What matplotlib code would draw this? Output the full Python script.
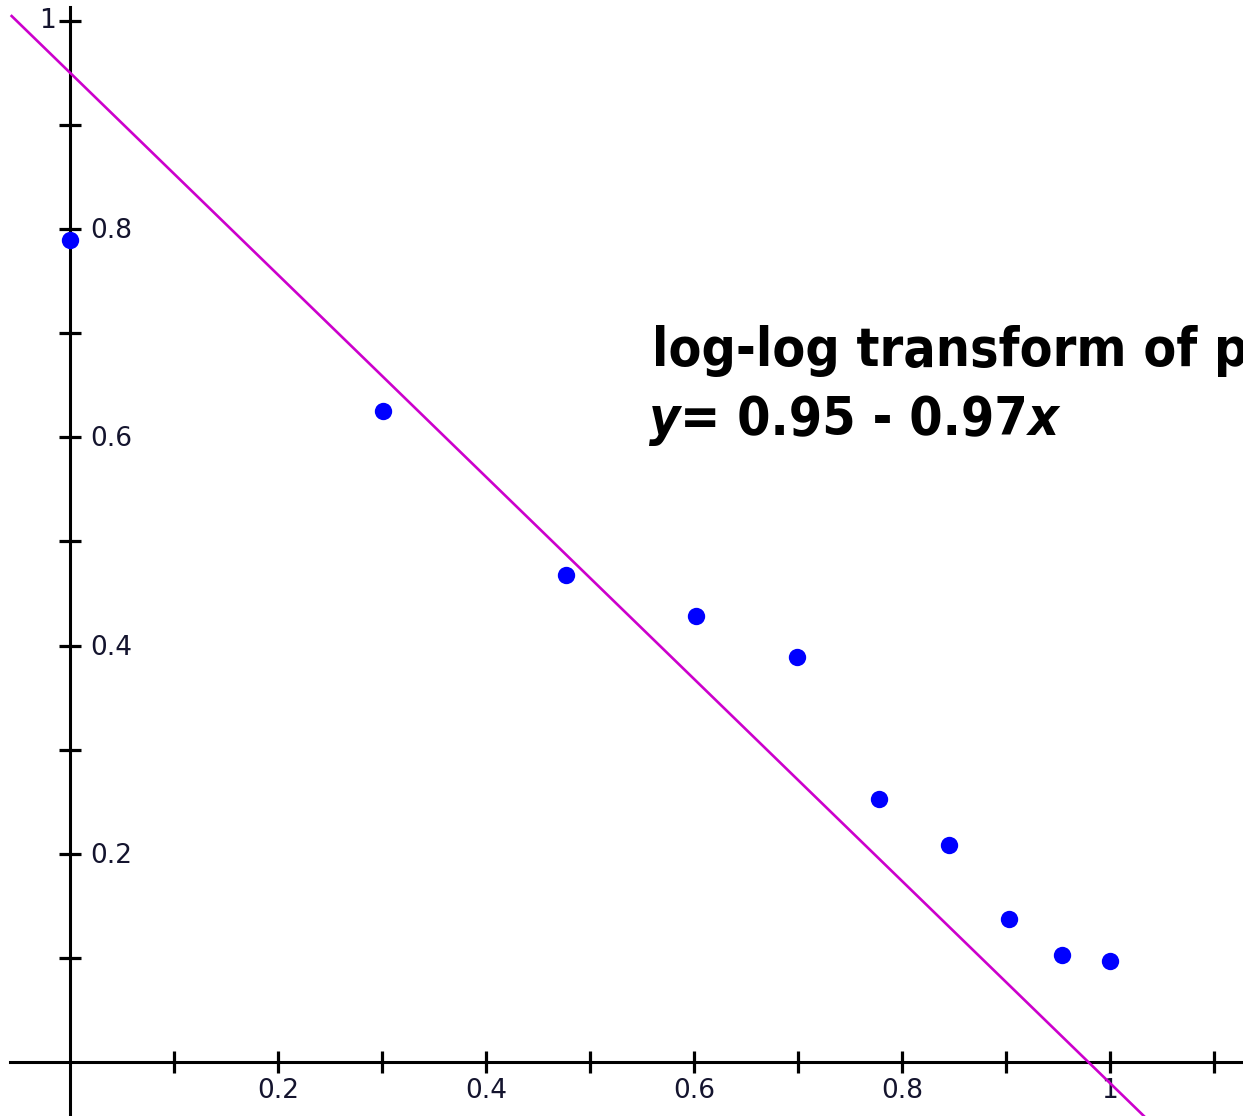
import matplotlib
matplotlib.use("Agg")
import matplotlib.pyplot as plt
from matplotlib import font_manager as fm
import numpy as np

# ---- data ----
x_vals = [0.0, 0.301, 0.477, 0.602, 0.699, 0.778, 0.845, 0.903, 0.954, 1.0]
y_vals = [0.789, 0.625, 0.468, 0.428, 0.389, 0.253, 0.209, 0.138, 0.103, 0.097]
intercept = 0.95
slope = -0.97
x_ticks = [0.1, 0.2, 0.3, 0.4, 0.5, 0.6, 0.7, 0.8, 0.9, 1.0, 1.1]
y_ticks = [0.1, 0.2, 0.3, 0.4, 0.5, 0.6, 0.7, 0.8, 0.9, 1.0]
x_labels = {0.2: "0.2", 0.4: "0.4", 0.6: "0.6", 0.8: "0.8", 1.0: "1"}
y_labels = {0.2: "0.2", 0.4: "0.4", 0.6: "0.6", 0.8: "0.8"}
title_line1 = "log-log transform of previous"
eq_parts = [("y", True), ("= 0.95 - 0.97", False), ("x", True)]


def _is_bold(f):
    w = f.weight
    if isinstance(w, str):
        return w.lower() in ("bold", "heavy", "black", "semibold", "demibold", "extra bold")
    return w >= 600


def _is_cond(f):
    s = str(f.stretch).lower()
    n = (f.name + " " + f.fname).lower()
    if "condensed" in s or "narrow" in n or "condensed" in n:
        return True
    try:
        return int(f.stretch) < 500
    except Exception:
        return False


def pick_font(italic):
    fl = [f for f in fm.fontManager.ttflist if _is_cond(f)]
    if not fl:
        fl = [f for f in fm.fontManager.ttflist if f.name in ("Roboto", "Lato", "Open Sans")]
    best, score = None, -1
    for f in fl:
        sc = 0
        if _is_bold(f):
            sc += 4
        if (f.style != "normal") == italic:
            sc += 8
        if "sans" in f.name.lower() or "roboto" in f.name.lower():
            sc += 1
        if sc > score:
            best, score = f, sc
    return best


fu = pick_font(False)
fi = pick_font(True)
prop_u = fm.FontProperties(fname=fu.fname) if fu else fm.FontProperties(family="DejaVu Sans", weight="bold")
prop_i = fm.FontProperties(fname=fi.fname) if fi else fm.FontProperties(family="DejaVu Sans", weight="bold", style="italic")

fig = plt.figure(figsize=(12.43, 11.16), dpi=100)
ax = fig.add_axes([0, 0, 1, 1])
ax.set_xlim(-0.0673, 1.1279)
ax.set_ylim(-0.0516, 1.0198)
ax.patch.set_visible(False)

for s in ['top', 'right']:
    ax.spines[s].set_visible(False)
ax.spines['left'].set_position(('data', 0))
ax.spines['bottom'].set_position(('data', 0))
ax.spines['left'].set_bounds(-0.06, 1.013)
ax.spines['bottom'].set_bounds(-0.0577, 1.2)
for s in ['left', 'bottom']:
    ax.spines[s].set_linewidth(2.2)
    ax.spines[s].set_color('black')

ax.set_xticks(x_ticks)
ax.set_yticks(y_ticks)
ax.tick_params(direction='inout', length=16, width=2.3, color='black',
               labelbottom=False, labelleft=False)

lab_color = '#14142e'
for v, t in x_labels.items():
    ax.annotate(t, (v, 0), xytext=(0, -29), textcoords='offset pixels',
                ha='center', va='center', fontsize=19, color=lab_color,
                family='DejaVu Sans')
for v, t in y_labels.items():
    ax.annotate(t, (0, v), xytext=(20, -2), textcoords='offset pixels',
                ha='left', va='center', fontsize=19, color=lab_color,
                family='DejaVu Sans')
ax.annotate("1", (0, 1.0), xytext=(-22, 0), textcoords='offset pixels',
            ha='center', va='center', fontsize=19, color=lab_color,
            family='DejaVu Sans')

# regression line
lx = np.array([-0.057, 1.25])
ax.plot(lx, intercept + slope * lx, color='#cc00cc', lw=1.9, zorder=3,
        solid_capstyle='butt')

# data points
ax.plot(x_vals, y_vals, 'o', color='#0000ff', markersize=12.5,
        markeredgewidth=0, zorder=4, clip_on=False)

# ---- annotation text: size chosen so the equation is ~400 px wide ----
renderer = fig.canvas.get_renderer()


def eq_width(size):
    tot = 0
    for t, it in eq_parts:
        p = (prop_i if it else prop_u).copy()
        p.set_size(size)
        w, h, d = renderer.get_text_width_height_descent(t, p, ismath=False)
        tot += w
    return tot

size = 50.0
for _ in range(3):
    size *= 410.0 / eq_width(size)
size = min(size, 60)

pu = prop_u.copy(); pu.set_size(size)
pi = prop_i.copy(); pi.set_size(size)

x0 = (652 - 70) / 1040.0
ax.text(x0, (1062.3 - 366) / 1041.7, title_line1, fontproperties=pu,
        ha='left', va='baseline', color='black')

xpix = 649
ybase = (1062.3 - 435) / 1041.7
for t, it in eq_parts:
    p = pi if it else pu
    ax.annotate(t, (0, ybase), xytext=(xpix - 70, 0), textcoords='offset pixels',
                fontproperties=p, ha='left', va='baseline', color='black')
    w, h, d = renderer.get_text_width_height_descent(t, p, ismath=False)
    xpix += w

fig.savefig("out.png", dpi=100)
